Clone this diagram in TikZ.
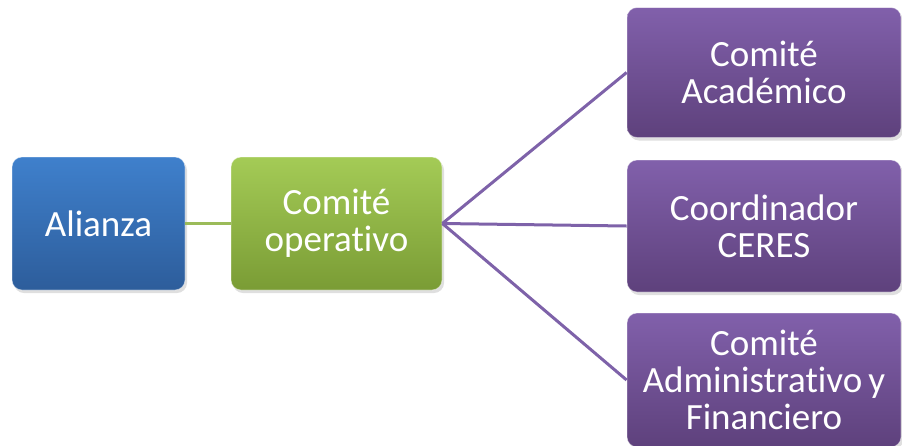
\documentclass[tikz,border=0pt]{standalone}
\usepackage{fontspec}
\setmainfont{Carlito}[RawFeature=-liga]
\usetikzlibrary{shadows}
\definecolor{bluetop}{HTML}{3F80CC}
\definecolor{bluebot}{HTML}{2D5D9B}
\definecolor{greentop}{HTML}{A4CB56}
\definecolor{greenbot}{HTML}{7A9C35}
\definecolor{purptop}{HTML}{8160AB}
\definecolor{purpbot}{HTML}{5E417C}
\definecolor{purpline}{HTML}{7E62A9}
\definecolor{greenline}{HTML}{9BBB59}
\tikzset{
  box/.style={rectangle, rounded corners=10pt, shade, draw=white, draw opacity=0.45, line width=0.8pt,
    text=white, align=center, inner sep=0pt,
    font=\fontsize{37}{37}\selectfont,
    drop shadow={opacity=0.25, shadow xshift=2pt, shadow yshift=-3pt}},
  bluebox/.style={box, top color=bluetop, bottom color=bluebot},
  greenbox/.style={box, top color=greentop, bottom color=greenbot},
  purpbox/.style={box, top color=purptop, bottom color=purpbot},
  purpconn/.style={draw=purpline, line width=3pt},
  greenconn/.style={draw=greenline, line width=3pt}
}
\begin{document}
\begin{tikzpicture}[x=1pt, y=-1pt]
\useasboundingbox (0,0) rectangle (902,445);
\node[bluebox, minimum width=173pt, minimum height=133pt] (ali) at (98.5,223.5) {Alianza};
\node[greenbox, minimum width=211pt, minimum height=133pt] (ope) at (336.5,223.5) {Comité\\operativo};
\node[purpbox, minimum width=274pt, minimum height=130pt] (aca) at (764,72.5) {Comité\\Académico};
\node[purpbox, minimum width=274pt, minimum height=132pt] (coo) at (764,226) {Coordinador\\CERES};
\node[purpbox, minimum width=274pt, minimum height=134pt] (adm) at (764,380) {Comité\\Administrativo\,y\\Financiero};
\draw[greenconn] (ali.east) -- (ope.west);
\draw[purpconn] (ope.east) -- (aca.west);
\draw[purpconn] (ope.east) -- (coo.west);
\draw[purpconn] (ope.east) -- (adm.west);
\end{tikzpicture}
\end{document}
